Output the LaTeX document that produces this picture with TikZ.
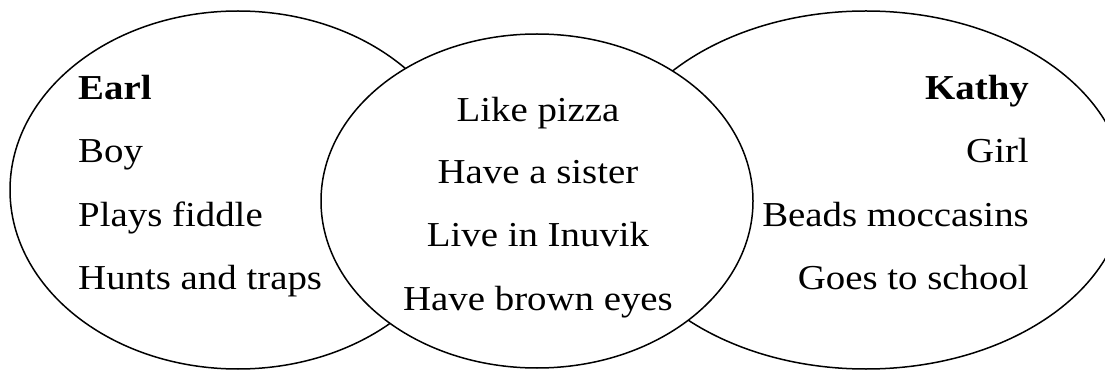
\documentclass[tikz,border=0pt]{standalone}
\usepackage{fontspec}
\setmainfont{Liberation Serif}
\usetikzlibrary{shapes.geometric}
\tikzset{
  circ/.style={ellipse, draw=black, line width=1.5pt, inner sep=0pt, fill=white},
  lbl/.style={font=\fontsize{35}{40}\selectfont, inner sep=0pt, xscale=1.11, transform shape},
}
\begin{document}
\begin{tikzpicture}[x=1pt,y=-1pt]
\useasboundingbox (0,0) rectangle (1105,371);
\node[circ, minimum width=456pt, minimum height=358pt] (left) at (238,190) {};
\node[circ, minimum width=518pt, minimum height=358pt] (right) at (866,190) {};
\node[circ, minimum width=432pt, minimum height=334pt] (mid) at (537,201) {};
% left texts
\node[lbl, anchor=base west] (earl) at (78,100) {\textbf{Earl}};
\node[lbl, anchor=base west] (boy) at (78,163) {Boy};
\node[lbl, anchor=base west] (fiddle) at (78,227) {Plays fiddle};
\node[lbl, anchor=base west] (hunts) at (78,289) {Hunts and traps};
% middle texts
\node[lbl, anchor=base] (pizza) at (538,122) {Like pizza};
\node[lbl, anchor=base] (sister) at (538,184) {Have a sister};
\node[lbl, anchor=base] (inuvik) at (538,247) {Live in Inuvik};
\node[lbl, anchor=base] (eyes) at (538,310) {Have brown eyes};
% right texts
\node[lbl, anchor=base east] (kathy) at (1029,100) {\textbf{Kathy}};
\node[lbl, anchor=base east] (girl) at (1029,163) {Girl};
\node[lbl, anchor=base east] (beads) at (1029,227) {Beads moccasins};
\node[lbl, anchor=base east] (school) at (1029,289) {Goes to school};
\end{tikzpicture}
\end{document}
